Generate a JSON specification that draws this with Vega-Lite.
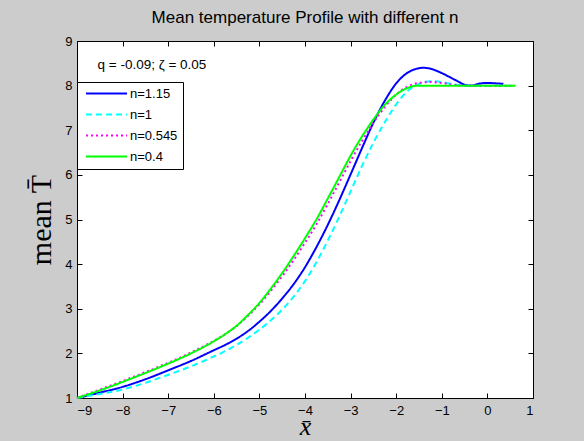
{
  "$schema": "https://vega.github.io/schema/vega-lite/v6.json",
  "width": 456,
  "height": 357,
  "autosize": "none",
  "padding": {"left": 77, "top": 41, "right": 51, "bottom": 43},
  "background": "#cccccc",
  "config": {
    "view": {"fill": "white", "stroke": "black", "strokeWidth": 1},
    "font": "Liberation Sans"
  },
  "title": {
    "text": "Mean temperature Profile with different n",
    "fontSize": 17,
    "fontWeight": "normal",
    "color": "black",
    "font": "Liberation Sans",
    "anchor": "middle",
    "offset": 8
  },
  "datasets": {
    "curves": [
      {"x": -9, "T": 1.0, "n": "n=1.15"},
      {"x": -8.5, "T": 1.12, "n": "n=1.15"},
      {"x": -8, "T": 1.25, "n": "n=1.15"},
      {"x": -7.5, "T": 1.42, "n": "n=1.15"},
      {"x": -7, "T": 1.62, "n": "n=1.15"},
      {"x": -6.5, "T": 1.83, "n": "n=1.15"},
      {"x": -6, "T": 2.07, "n": "n=1.15"},
      {"x": -5.75, "T": 2.19, "n": "n=1.15"},
      {"x": -5.5, "T": 2.33, "n": "n=1.15"},
      {"x": -5.25, "T": 2.5, "n": "n=1.15"},
      {"x": -5, "T": 2.71, "n": "n=1.15"},
      {"x": -4.75, "T": 2.95, "n": "n=1.15"},
      {"x": -4.5, "T": 3.23, "n": "n=1.15"},
      {"x": -4.25, "T": 3.55, "n": "n=1.15"},
      {"x": -4, "T": 3.93, "n": "n=1.15"},
      {"x": -3.75, "T": 4.38, "n": "n=1.15"},
      {"x": -3.5, "T": 4.88, "n": "n=1.15"},
      {"x": -3.25, "T": 5.43, "n": "n=1.15"},
      {"x": -3, "T": 6.01, "n": "n=1.15"},
      {"x": -2.75, "T": 6.6, "n": "n=1.15"},
      {"x": -2.5, "T": 7.17, "n": "n=1.15"},
      {"x": -2.25, "T": 7.66, "n": "n=1.15"},
      {"x": -2, "T": 8.05, "n": "n=1.15"},
      {"x": -1.75, "T": 8.29, "n": "n=1.15"},
      {"x": -1.5, "T": 8.39, "n": "n=1.15"},
      {"x": -1.4, "T": 8.4, "n": "n=1.15"},
      {"x": -1.25, "T": 8.38, "n": "n=1.15"},
      {"x": -1, "T": 8.28, "n": "n=1.15"},
      {"x": -0.75, "T": 8.15, "n": "n=1.15"},
      {"x": -0.6, "T": 8.07, "n": "n=1.15"},
      {"x": -0.5, "T": 8.02, "n": "n=1.15"},
      {"x": -0.35, "T": 8.0, "n": "n=1.15"},
      {"x": -0.2, "T": 8.04, "n": "n=1.15"},
      {"x": 0, "T": 8.06, "n": "n=1.15"},
      {"x": 0.2, "T": 8.05, "n": "n=1.15"},
      {"x": 0.35, "T": 8.04, "n": "n=1.15"},
      {"x": -9, "T": 1.0, "n": "n=1"},
      {"x": -8.5, "T": 1.09, "n": "n=1"},
      {"x": -8, "T": 1.19, "n": "n=1"},
      {"x": -7.5, "T": 1.34, "n": "n=1"},
      {"x": -7, "T": 1.52, "n": "n=1"},
      {"x": -6.5, "T": 1.71, "n": "n=1"},
      {"x": -6, "T": 1.93, "n": "n=1"},
      {"x": -5.75, "T": 2.05, "n": "n=1"},
      {"x": -5.5, "T": 2.19, "n": "n=1"},
      {"x": -5.25, "T": 2.35, "n": "n=1"},
      {"x": -5, "T": 2.53, "n": "n=1"},
      {"x": -4.75, "T": 2.74, "n": "n=1"},
      {"x": -4.5, "T": 2.98, "n": "n=1"},
      {"x": -4.25, "T": 3.27, "n": "n=1"},
      {"x": -4, "T": 3.62, "n": "n=1"},
      {"x": -3.75, "T": 4.04, "n": "n=1"},
      {"x": -3.5, "T": 4.53, "n": "n=1"},
      {"x": -3.25, "T": 5.06, "n": "n=1"},
      {"x": -3, "T": 5.63, "n": "n=1"},
      {"x": -2.75, "T": 6.2, "n": "n=1"},
      {"x": -2.5, "T": 6.72, "n": "n=1"},
      {"x": -2.25, "T": 7.18, "n": "n=1"},
      {"x": -2, "T": 7.58, "n": "n=1"},
      {"x": -1.75, "T": 7.88, "n": "n=1"},
      {"x": -1.5, "T": 8.04, "n": "n=1"},
      {"x": -1.25, "T": 8.1, "n": "n=1"},
      {"x": -1, "T": 8.08, "n": "n=1"},
      {"x": -0.75, "T": 8.03, "n": "n=1"},
      {"x": -0.5, "T": 8.0, "n": "n=1"},
      {"x": 0, "T": 8.0, "n": "n=1"},
      {"x": 0.55, "T": 8.0, "n": "n=1"},
      {"x": -9, "T": 1.0, "n": "n=0.545"},
      {"x": -8.5, "T": 1.19, "n": "n=0.545"},
      {"x": -8, "T": 1.38, "n": "n=0.545"},
      {"x": -7.5, "T": 1.58, "n": "n=0.545"},
      {"x": -7, "T": 1.79, "n": "n=0.545"},
      {"x": -6.5, "T": 2.02, "n": "n=0.545"},
      {"x": -6, "T": 2.28, "n": "n=0.545"},
      {"x": -5.75, "T": 2.43, "n": "n=0.545"},
      {"x": -5.5, "T": 2.61, "n": "n=0.545"},
      {"x": -5.25, "T": 2.84, "n": "n=0.545"},
      {"x": -5, "T": 3.1, "n": "n=0.545"},
      {"x": -4.75, "T": 3.4, "n": "n=0.545"},
      {"x": -4.5, "T": 3.73, "n": "n=0.545"},
      {"x": -4.25, "T": 4.09, "n": "n=0.545"},
      {"x": -4, "T": 4.48, "n": "n=0.545"},
      {"x": -3.75, "T": 4.89, "n": "n=0.545"},
      {"x": -3.5, "T": 5.35, "n": "n=0.545"},
      {"x": -3.25, "T": 5.83, "n": "n=0.545"},
      {"x": -3, "T": 6.31, "n": "n=0.545"},
      {"x": -2.75, "T": 6.76, "n": "n=0.545"},
      {"x": -2.5, "T": 7.17, "n": "n=0.545"},
      {"x": -2.25, "T": 7.52, "n": "n=0.545"},
      {"x": -2, "T": 7.8, "n": "n=0.545"},
      {"x": -1.75, "T": 7.98, "n": "n=0.545"},
      {"x": -1.5, "T": 8.06, "n": "n=0.545"},
      {"x": -1.25, "T": 8.08, "n": "n=0.545"},
      {"x": -1, "T": 8.06, "n": "n=0.545"},
      {"x": -0.75, "T": 8.02, "n": "n=0.545"},
      {"x": -0.5, "T": 8.0, "n": "n=0.545"},
      {"x": 0, "T": 8.0, "n": "n=0.545"},
      {"x": 0.55, "T": 8.0, "n": "n=0.545"},
      {"x": -9, "T": 1.0, "n": "n=0.4"},
      {"x": -8.5, "T": 1.17, "n": "n=0.4"},
      {"x": -8, "T": 1.36, "n": "n=0.4"},
      {"x": -7.5, "T": 1.56, "n": "n=0.4"},
      {"x": -7, "T": 1.77, "n": "n=0.4"},
      {"x": -6.5, "T": 2.0, "n": "n=0.4"},
      {"x": -6, "T": 2.27, "n": "n=0.4"},
      {"x": -5.75, "T": 2.43, "n": "n=0.4"},
      {"x": -5.5, "T": 2.62, "n": "n=0.4"},
      {"x": -5.25, "T": 2.86, "n": "n=0.4"},
      {"x": -5, "T": 3.13, "n": "n=0.4"},
      {"x": -4.75, "T": 3.45, "n": "n=0.4"},
      {"x": -4.5, "T": 3.8, "n": "n=0.4"},
      {"x": -4.25, "T": 4.18, "n": "n=0.4"},
      {"x": -4, "T": 4.58, "n": "n=0.4"},
      {"x": -3.75, "T": 5.0, "n": "n=0.4"},
      {"x": -3.5, "T": 5.47, "n": "n=0.4"},
      {"x": -3.25, "T": 5.95, "n": "n=0.4"},
      {"x": -3, "T": 6.43, "n": "n=0.4"},
      {"x": -2.75, "T": 6.86, "n": "n=0.4"},
      {"x": -2.5, "T": 7.24, "n": "n=0.4"},
      {"x": -2.25, "T": 7.57, "n": "n=0.4"},
      {"x": -2, "T": 7.8, "n": "n=0.4"},
      {"x": -1.75, "T": 7.95, "n": "n=0.4"},
      {"x": -1.5, "T": 8.0, "n": "n=0.4"},
      {"x": -1, "T": 8.0, "n": "n=0.4"},
      {"x": 0, "T": 8.0, "n": "n=0.4"},
      {"x": 0.62, "T": 8.0, "n": "n=0.4"}
    ],
    "note": [
      {"x": -8.55, "T": 8.47, "label": "q = -0.09; ζ = 0.05"}
    ]
  },
  "layer": [
    {
      "data": {"name": "curves"},
      "mark": {"type": "line", "strokeWidth": 2, "interpolate": "monotone"},
      "encoding": {
        "x": {
          "field": "x", "type": "quantitative",
          "scale": {"domain": [-9, 1], "nice": false, "zero": false},
          "axis": {
            "orient": "bottom",
            "values": [-9, -8, -7, -6, -5, -4, -3, -2, -1, 0, 1],
            "grid": false, "tickSize": -5, "tickColor": "black", "domainColor": "black",
            "labelFontSize": 13, "labelColor": "black", "labelPadding": 11, "labelFont": "Liberation Sans",
            "title": "x̄", "titleFont": "Liberation Serif", "titleFontStyle": "italic", "titleFontWeight": "normal",
            "titleFontSize": 26, "titleColor": "black", "titleBaseline": "alphabetic", "titlePadding": 17
          }
        },
        "y": {
          "field": "T", "type": "quantitative",
          "scale": {"domain": [1, 9], "nice": false, "zero": false},
          "axis": {
            "orient": "left",
            "values": [1, 2, 3, 4, 5, 6, 7, 8, 9],
            "grid": false, "tickSize": -5, "tickColor": "black", "domainColor": "black",
            "labelFontSize": 13, "labelColor": "black", "labelPadding": 10, "labelFont": "Liberation Sans",
            "title": "mean T̄", "titleFont": "Liberation Serif", "titleFontWeight": "normal",
            "titleFontSize": 30, "titleColor": "black", "titlePadding": 8
          }
        },
        "color": {
          "field": "n", "type": "nominal",
          "scale": {"domain": ["n=1.15", "n=1", "n=0.545", "n=0.4"], "range": ["#0000ff", "#00ffff", "#ff00ff", "#00ff00"]},
          "legend": {
            "orient": "none", "legendX": 0, "legendY": 41, "title": null,
            "fillColor": "white", "strokeColor": "black", "padding": 5,
            "symbolType": "M-10.25,0H10.25", "symbolSize": 16, "symbolStrokeWidth": 2, "symbolOffset": 18,
            "labelFontSize": 13, "labelFont": "Liberation Sans", "labelColor": "black", "labelOffset": 17,
            "rowPadding": 7
          }
        },
        "strokeDash": {
          "field": "n", "type": "nominal",
          "scale": {"domain": ["n=1.15", "n=1", "n=0.545", "n=0.4"], "range": [[1, 0], [6, 4], [2, 3], [1, 0]]},
          "legend": null
        }
      }
    },
    {
      "data": {"name": "note"},
      "mark": {"type": "text", "align": "left", "baseline": "middle", "fontSize": 13.5, "font": "Liberation Sans", "color": "black"},
      "encoding": {
        "x": {"field": "x", "type": "quantitative", "axis": null},
        "y": {"field": "T", "type": "quantitative", "axis": null},
        "text": {"field": "label"}
      }
    },
    {
      "data": {"name": "note"},
      "mark": {"type": "point", "opacity": 0},
      "encoding": {
        "x": {"field": "x", "type": "quantitative",
          "axis": {"orient": "top", "values": [-9, -8, -7, -6, -5, -4, -3, -2, -1, 0, 1], "labels": false, "title": null, "grid": false, "tickSize": -5, "tickColor": "black", "domainColor": "black"}},
        "y": {"field": "T", "type": "quantitative",
          "axis": {"orient": "right", "values": [1, 2, 3, 4, 5, 6, 7, 8, 9], "labels": false, "title": null, "grid": false, "tickSize": -5, "tickColor": "black", "domainColor": "black"}}
      }
    }
  ],
  "resolve": {"axis": {"x": "independent", "y": "independent"}}
}
